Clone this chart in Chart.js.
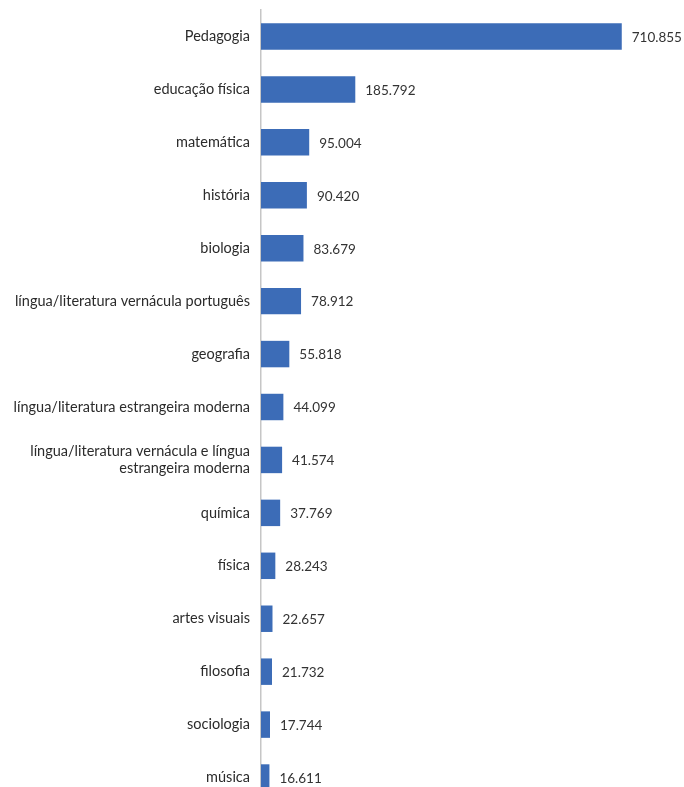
<!DOCTYPE html>
<html>
<head>
<meta charset="utf-8">
<script src="https://cdn.jsdelivr.net/npm/chart.js@4.4.0/dist/chart.umd.min.js"></script>
<style>
    html, body { margin: 0; padding: 0; background: #fff; overflow: hidden; }
    #wrap { width: 684px; height: 812px; }
</style>
</head>
<body>
<div id="wrap"><canvas id="myChart" width="684" height="812"></canvas></div>
<script>
var cursos = [
    'Pedagogia',
    'educação física',
    'matemática',
    'história',
    'biologia',
    'língua/literatura vernácula português',
    'geografia',
    'língua/literatura estrangeira moderna',
    ['língua/literatura vernácula e língua', 'estrangeira moderna'],
    'química',
    'física',
    'artes visuais',
    'filosofia',
    'sociologia',
    'música'
];
var docentes = [710855, 185792, 95004, 90420, 83679, 78912, 55818, 44099, 41574, 37769, 28243, 22657, 21732, 17744, 16611];

function formatNum(v) {
    return v.toString().replace(/\B(?=(\d{3})+(?!\d))/g, '.');
}

var valueLabels = {
    id: 'valueLabels',
    afterDatasetsDraw: function (chart) {
        var ctx = chart.ctx;
        var meta = chart.getDatasetMeta(0);
        ctx.save();
        ctx.font = '13.5px Lato';
        ctx.fillStyle = '#333333';
        ctx.textAlign = 'left';
        ctx.textBaseline = 'middle';
        meta.data.forEach(function (bar, i) {
            ctx.fillText(formatNum(docentes[i]), bar.x + 10, bar.y + 1);
        });
        ctx.restore();
    }
};

var ctx = document.getElementById('myChart');
new Chart(ctx, {
    type: 'bar',
    data: {
        labels: cursos,
        datasets: [{
            data: docentes,
            backgroundColor: '#3c6cb7',
            barPercentage: 0.5,
            categoryPercentage: 1.0
        }]
    },
    options: {
        indexAxis: 'y',
        responsive: false,
        animation: false,
        layout: { padding: { top: 10, bottom: 8, left: 0, right: 17 } },
        plugins: {
            legend: { display: false },
            tooltip: { enabled: false }
        },
        scales: {
            x: {
                display: false,
                min: 0,
                max: 800000
            },
            y: {
                afterFit: function (scale) {
                    scale.width = 261;
                    scale.paddingTop = 0;
                    scale.paddingBottom = 0;
                },
                grid: { drawOnChartArea: false, drawTicks: false, color: 'rgba(0,0,0,0)' },
                border: { display: true, color: '#c6c6c6', width: 1.5 },
                ticks: {
                    padding: 11,
                    color: '#2b2b2b',
                    font: { family: 'Lato', size: 14.5 }
                }
            }
        }
    },
    plugins: [valueLabels]
});
</script>
</body>
</html>
